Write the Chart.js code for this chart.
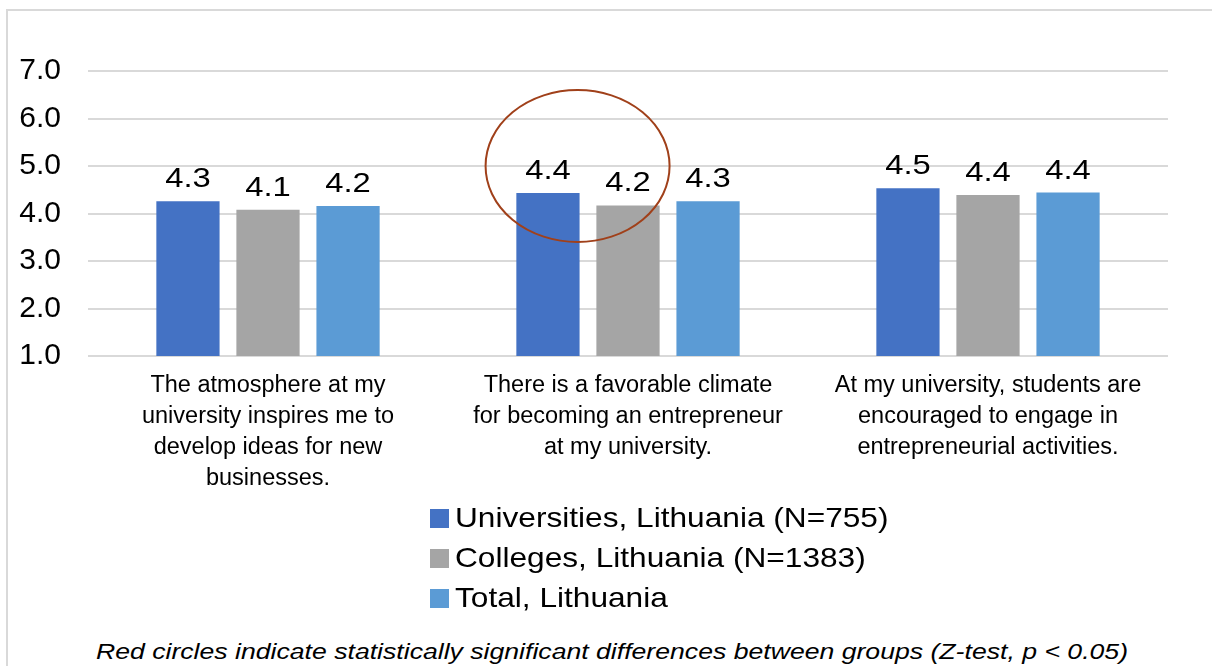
<!DOCTYPE html>
<html>
<head>
<meta charset="utf-8">
<script src="https://cdn.jsdelivr.net/npm/chart.js@4"></script>
<style>
  html, body { margin: 0; padding: 0; background: #fff; overflow: hidden; }
  #page { position: relative; width: 1212px; height: 666px; overflow: hidden; font-family: 'Liberation Sans', Arial, sans-serif; }
  #frame { position: absolute; left: 6px; top: 9px; width: 1400px; height: 900px; border: 2px solid #d9d9d9; }
  #wrap { position: absolute; left: 0; top: 0; width: 1212px; height: 500px; }
  #legend { position: absolute; left: 430px; top: 498px; }
  #legend div { display: flex; align-items: center; height: 40px; font-size: 28px; color: #000; white-space: nowrap; }
  #legend span.box { display: inline-block; width: 19px; height: 19px; margin-right: 6px; }
  #legend span.txt { display: inline-block; transform: scaleX(1.13); transform-origin: left center; }
  #note { position: absolute; left: 0; width: 1224px; top: 639px; text-align: center; font-style: italic; font-size: 22px; color: #000; white-space: nowrap; transform: scaleX(1.21); transform-origin: 612px 0; }
</style>
</head>
<body>
<div id="page">
  <div id="frame"></div>
  <div id="wrap"><canvas id="chart"></canvas></div>
  <div id="legend"></div>
  <div id="note">Red circles indicate statistically significant differences between groups (Z-test, p &lt; 0.05)</div>
</div>
<script>
// カテゴリ（x軸ラベル、複数行）
const categories = [
    ['The atmosphere at my', 'university inspires me to', 'develop ideas for new', 'businesses.'],
    ['There is a favorable climate', 'for becoming an entrepreneur', 'at my university.'],
    ['At my university, students are', 'encouraged to engage in', 'entrepreneurial activities.'],
];

// 系列ラベル
const seriesLabels = [
    'Universities, Lithuania (N=755)',
    'Colleges, Lithuania (N=1383)',
    'Total, Lithuania',
];

// 系列の値
const universities = [4.26, 4.43, 4.53];
const colleges = [4.08, 4.17, 4.39];
const total = [4.16, 4.26, 4.44];

// y軸目盛り
const yTicks = [1, 2, 3, 4, 5, 6, 7];

// 有意差の丸（カテゴリ番号）
const significantCategories = [1];

const seriesColors = ['#4472C4', '#A5A5A5', '#5B9BD5'];

Chart.defaults.font.family = "'Liberation Sans', Arial, sans-serif";
Chart.defaults.color = '#000';

/**
 * 棒の上に値を描く（元図は横に少し伸びているので横方向に拡大）
 */
const valueLabels = {
    id: 'valueLabels',
    afterDatasetsDraw(chart) {
        const ctx = chart.ctx;
        ctx.save();
        ctx.font = "28px 'Liberation Sans', Arial, sans-serif";
        ctx.fillStyle = '#000';
        ctx.textAlign = 'center';
        ctx.textBaseline = 'alphabetic';
        chart.data.datasets.forEach((ds, i) => {
            chart.getDatasetMeta(i).data.forEach((bar, j) => {
                ctx.save();
                ctx.translate(bar.x, bar.y - 14);
                ctx.scale(1.17, 1);
                ctx.fillText(ds.data[j].toFixed(1), 0, 0);
                ctx.restore();
            });
        });
        ctx.restore();
    }
};

/**
 * 有意差を示す楕円
 */
const sigCircles = {
    id: 'sigCircles',
    afterDraw(chart) {
        const ctx = chart.ctx;
        const y = chart.scales.y;
        const m0 = chart.getDatasetMeta(0).data;
        const m1 = chart.getDatasetMeta(1).data;
        ctx.save();
        ctx.strokeStyle = '#A0401A';
        ctx.lineWidth = 2;
        significantCategories.forEach(c => {
            const cx = m0[c].x + (m1[c].x - m0[c].x) * 0.37;
            const cy = y.getPixelForValue(5.0);
            ctx.beginPath();
            ctx.ellipse(cx, cy, 92, 76, 0, 0, Math.PI * 2);
            ctx.stroke();
        });
        ctx.restore();
    }
};

const chart = new Chart(document.getElementById('chart'), {
    type: 'bar',
    data: {
        labels: categories,
        datasets: [universities, colleges, total].map((d, i) => ({
            label: seriesLabels[i],
            data: d,
            backgroundColor: seriesColors[i],
            categoryPercentage: 0.667,
            barPercentage: 0.79,
        })),
    },
    options: {
        responsive: true,
        maintainAspectRatio: false,
        animation: false,
        layout: { padding: { left: 10, right: 44, top: 71, bottom: 0 } },
        plugins: {
            legend: { display: false },
            tooltip: { enabled: false },
        },
        scales: {
            x: {
                grid: { display: false, drawTicks: false },
                border: { display: false },
                ticks: {
                    font: { size: 23.5, lineHeight: 1.32 },
                    padding: 14,
                    maxRotation: 0,
                    autoSkip: false,
                },
                afterFit(s) { s.height = 144; },
            },
            y: {
                min: 1,
                max: 7,
                afterBuildTicks(s) { s.ticks = yTicks.map(v => ({ value: v })); },
                ticks: {
                    font: { size: 30 },
                    padding: 27,
                    callback: v => v.toFixed(1),
                },
                grid: { color: '#d9d9d9', lineWidth: 2, drawTicks: false },
                border: { display: false },
                afterFit(s) { s.width = 78; },
            },
        },
    },
    plugins: [valueLabels, sigCircles],
});

// 凡例（縦並び）
const legendEl = document.getElementById('legend');
chart.data.datasets.forEach(ds => {
    const row = document.createElement('div');
    const box = document.createElement('span');
    box.className = 'box';
    box.style.background = ds.backgroundColor;
    const txt = document.createElement('span');
    txt.className = 'txt';
    txt.textContent = ds.label;
    row.appendChild(box);
    row.appendChild(txt);
    legendEl.appendChild(row);
});
</script>
</body>
</html>
